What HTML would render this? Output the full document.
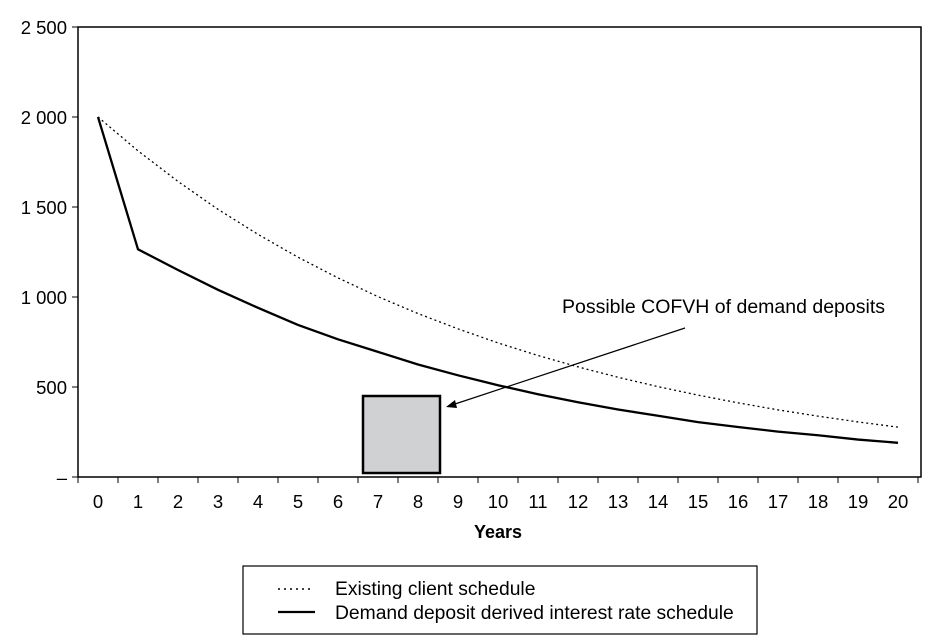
<!DOCTYPE html>
<html><head><meta charset="utf-8"><style>
html,body{margin:0;padding:0;background:#fff;width:927px;height:639px;overflow:hidden}
svg{display:block;font-family:"Liberation Sans",Arial,sans-serif}
</style></head><body>
<svg id="chart" width="927" height="639">
<rect x="78" y="27" width="843" height="450" fill="#fff" stroke="#000" stroke-width="1.5"/>
<g id="yaxis"></g>
<g id="xaxis"></g>
<text x="498" y="538" text-anchor="middle" font-weight="bold" font-size="18">Years</text>
<rect x="363" y="396" width="77" height="77" fill="#d0d1d3" stroke="#000" stroke-width="2.5"/>
<g id="series"></g>
<line x1="685" y1="328" x2="452" y2="405" stroke="#000" stroke-width="1.2"/>
<polygon points="446,407 455,400 457,408" fill="#000"/>
<text x="562" y="313" font-size="19.5">Possible COFVH of demand deposits</text>
<g>
<rect x="243" y="566" width="514" height="68" fill="#fff" stroke="#000" stroke-width="1.2"/>
<line x1="278" y1="589" x2="313" y2="589" stroke="#000" stroke-width="1.5" stroke-dasharray="2,4"/>
<text x="335" y="595" font-size="19.3">Existing client schedule</text>
<line x1="278" y1="612" x2="315" y2="612" stroke="#000" stroke-width="2.2"/>
<text x="335" y="619" font-size="19.3">Demand deposit derived interest rate schedule</text>
</g>
</svg>
<script>
const years = [0,1,2,3,4,5,6,7,8,9,10,11,12,13,14,15,16,17,18,19,20];
const existingSchedule = [2000,1812,1642,1487,1348,1221,1106,1002,908,823,745,675,612,554,502,455,412,373,338,306,277];
const demandSchedule = [2000,1265,1150,1040,940,845,765,695,625,565,510,460,415,375,340,305,278,252,232,208,190];
const yTicks = [0,500,1000,1500,2000,2500];
const yTickLabels = ["–","500","1 000","1 500","2 000","2 500"];
const NS="http://www.w3.org/2000/svg";
const left=78, catW=40, y0=477, yTop=27, yMax=2500;
function xPos(i){return left+catW*(i+0.5);}
function yPos(v){return y0-(v/yMax)*(y0-yTop);}
const yax=document.getElementById('yaxis'), xax=document.getElementById('xaxis'), ser=document.getElementById('series');
function mk(tag,attrs,parent){const e=document.createElementNS(NS,tag);for(const k in attrs)e.setAttribute(k,attrs[k]);parent.appendChild(e);return e;}
yTicks.forEach((v,i)=>{
  const y=yPos(v);
  const t=mk('line',{x1:72,x2:78,y1:y,y2:y,stroke:'#000'},yax);
  
  
  const l=mk('text',{x:67,y:y+7,'text-anchor':'end','font-size':18.5},yax);
  l.textContent=yTickLabels[i];
  
  
});
for(let i=0;i<=years.length;i++){
  const x=left+catW*i;
  const t=mk('line',{x1:x,x2:x,y1:477,y2:483,stroke:'#000'},xax);
  
  
}
years.forEach((yr,i)=>{
  const l=mk('text',{x:xPos(i),y:508,'text-anchor':'middle','font-size':18.5},xax);
  l.textContent=yr;
  
  
});
function pts(arr){return arr.map((v,i)=>xPos(i)+','+yPos(v)).join(' ');}
const p1=mk('polyline',{points:pts(existingSchedule),fill:'none',stroke:'#000','stroke-width':1.3,'stroke-dasharray':'2,3'},ser);


const p2=mk('polyline',{points:pts(demandSchedule),fill:'none',stroke:'#000','stroke-width':2.3},ser);


</script>
</body></html>
